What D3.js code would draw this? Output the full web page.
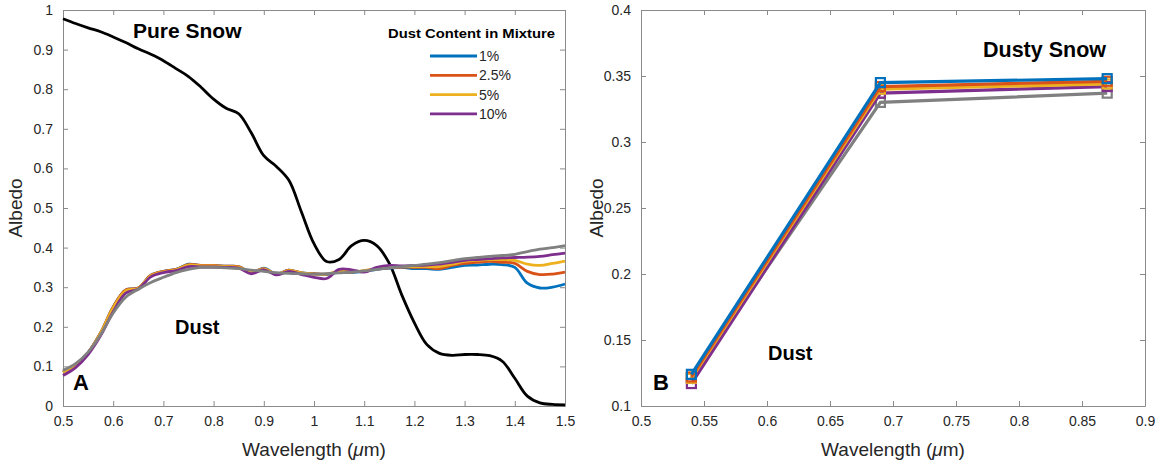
<!DOCTYPE html>
<html><head><meta charset="utf-8">
<script src="https://cdn.jsdelivr.net/npm/d3@7"></script>
<style>body{margin:0;background:#fff}svg{display:block;font-family:"Liberation Sans",Arial,sans-serif}</style>
</head><body><svg id="c" width="1164" height="466"></svg>
<script>
// ---------- Panel A data ----------
const wavelengthA = [0.5,0.525,0.55,0.575,0.6,0.625,0.65,0.675,0.7,0.725,0.75,0.775,0.8,0.825,0.85,0.875,0.9,0.925,0.95,0.975,1.0,1.025,1.05,1.075,1.1,1.125,1.15,1.175,1.2,1.225,1.25,1.275,1.3,1.325,1.35,1.375,1.4,1.425,1.45,1.475,1.5];
const pureSnow = [0.978,0.966,0.955,0.945,0.932,0.918,0.902,0.888,0.872,0.852,0.832,0.805,0.775,0.752,0.738,0.69,0.632,0.605,0.57,0.49,0.41,0.365,0.37,0.405,0.418,0.405,0.36,0.28,0.21,0.155,0.133,0.128,0.13,0.13,0.127,0.113,0.07,0.025,0.008,0.004,0.003];
const dust1 = [0.086,0.104,0.135,0.185,0.25,0.293,0.298,0.33,0.34,0.345,0.358,0.355,0.355,0.353,0.352,0.336,0.348,0.333,0.343,0.336,0.334,0.332,0.338,0.337,0.34,0.345,0.348,0.35,0.347,0.347,0.345,0.35,0.355,0.356,0.358,0.357,0.35,0.31,0.298,0.3,0.308];
const dust25 = [0.086,0.104,0.135,0.185,0.25,0.293,0.298,0.33,0.34,0.345,0.357,0.355,0.355,0.353,0.352,0.337,0.347,0.333,0.343,0.336,0.334,0.333,0.339,0.338,0.341,0.346,0.349,0.351,0.35,0.35,0.347,0.355,0.36,0.363,0.365,0.363,0.36,0.34,0.332,0.333,0.338];
const dust5 = [0.085,0.103,0.134,0.184,0.248,0.291,0.297,0.329,0.339,0.344,0.356,0.354,0.354,0.352,0.351,0.337,0.346,0.333,0.342,0.336,0.333,0.333,0.34,0.339,0.342,0.347,0.35,0.352,0.352,0.352,0.352,0.358,0.365,0.368,0.37,0.37,0.368,0.358,0.355,0.36,0.366];
const dust10 = [0.077,0.097,0.13,0.178,0.238,0.285,0.295,0.326,0.337,0.342,0.352,0.351,0.351,0.35,0.348,0.334,0.344,0.331,0.34,0.332,0.325,0.322,0.345,0.344,0.338,0.35,0.355,0.354,0.355,0.356,0.358,0.363,0.368,0.37,0.372,0.374,0.375,0.376,0.378,0.382,0.386];
const dustOnly = [0.09,0.107,0.136,0.18,0.235,0.275,0.295,0.312,0.325,0.337,0.345,0.35,0.35,0.349,0.347,0.343,0.34,0.337,0.335,0.334,0.333,0.334,0.336,0.338,0.341,0.345,0.349,0.352,0.355,0.358,0.362,0.367,0.372,0.375,0.378,0.38,0.383,0.39,0.396,0.4,0.405];
const xTicksA = [0.5,0.6,0.7,0.8,0.9,1.0,1.1,1.2,1.3,1.4,1.5];
const yTicksA = [0,0.1,0.2,0.3,0.4,0.5,0.6,0.7,0.8,0.9,1];

// ---------- Panel B data ----------
const wavelengthB = [0.54,0.69,0.87];
const b1 = [0.124,0.345,0.348];
const b25 = [0.122,0.342,0.346];
const b5 = [0.121,0.340,0.344];
const b10 = [0.117,0.337,0.342];
const bDust = [0.121,0.330,0.337];
const xTicksB = [0.5,0.55,0.6,0.65,0.7,0.75,0.8,0.85,0.9];
const yTicksB = [0.1,0.15,0.2,0.25,0.3,0.35,0.4];

const legendLabels = ["1%","2.5%","5%","10%"];
const colors = ["#0072BD","#D95319","#EDB120","#7E2F8E"];
const grayC = "#808080";

const svg = d3.select("#c");
const fmt = v => String(+v.toFixed(2));

function panel(xd, yd, xr, yr, xt, yt) {
  const x = d3.scaleLinear().domain(xd).range(xr);
  const y = d3.scaleLinear().domain(yd).range(yr);
  const g = svg.append("g");
  const axc = "#262626";
  const mk = (ax) => ax.tickSizeOuter(0);
  const bottom = g.append("g").attr("transform",`translate(0,${yr[0]})`)
    .call(mk(d3.axisBottom(x).tickValues(xt).tickFormat(fmt).tickSizeInner(-5).tickPadding(10)));
  const top = g.append("g").attr("transform",`translate(0,${yr[1]})`)
    .call(mk(d3.axisTop(x).tickValues(xt).tickFormat("").tickSizeInner(-5)));
  const left = g.append("g").attr("transform",`translate(${xr[0]},0)`)
    .call(mk(d3.axisLeft(y).tickValues(yt).tickFormat(fmt).tickSizeInner(-5).tickPadding(10)));
  const right = g.append("g").attr("transform",`translate(${xr[1]},0)`)
    .call(mk(d3.axisRight(y).tickValues(yt).tickFormat("").tickSizeInner(-5)));
  [bottom,top,left,right].forEach(a=>{
    a.selectAll("path,line").attr("stroke","#8a8a8a").attr("stroke-width",1);
    a.selectAll("text").attr("fill",axc).attr("font-size",14).attr("font-family","Liberation Sans, Arial, sans-serif");
  });
  return {x,y,g};
}

// Panel A
const A = panel([0.5,1.5],[0,1],[63,565],[406,10],xTicksA,yTicksA);
const lineA = d3.line().x((d,i)=>A.x(wavelengthA[i])).y(d=>A.y(d)).curve(d3.curveCatmullRom.alpha(0.5));
A.g.append("path").attr("d",lineA(pureSnow)).attr("fill","none").attr("stroke","#000").attr("stroke-width",2.8);
[dust1,dust25,dust5,dust10].forEach((s,i)=>{
  A.g.append("path").attr("d",lineA(s)).attr("fill","none").attr("stroke",colors[i]).attr("stroke-width",2.8);
});
A.g.append("path").attr("d",lineA(dustOnly)).attr("fill","none").attr("stroke",grayC).attr("stroke-width",2.8);

// Legend
const lg = A.g.append("g");
lg.append("text").attr("x",388).attr("y",38).attr("font-size",13.3).attr("font-weight","bold").attr("fill","#000")
  .attr("textLength",167).attr("lengthAdjust","spacingAndGlyphs").text("Dust Content in Mixture");
legendLabels.forEach((l,i)=>{
  const yy = 56 + i*19.3;
  lg.append("line").attr("x1",430).attr("x2",477).attr("y1",yy).attr("y2",yy).attr("stroke",colors[i]).attr("stroke-width",2.8);
  lg.append("text").attr("x",479).attr("y",yy+5).attr("font-size",14).attr("fill","#262626").text(l);
});

// Annotations A
const bold = (g,x,y,s,t)=>g.append("text").attr("x",x).attr("y",y).attr("font-size",s).attr("font-weight","bold").attr("fill","#000").text(t);
bold(A.g,133,38,21,"Pure Snow");
bold(A.g,175,334,20,"Dust");
bold(A.g,73,390,22,"A");

// Panel B
const B = panel([0.5,0.9],[0.1,0.4],[641,1145],[406,10],xTicksB,yTicksB);
const lineB = d3.line().x((d,i)=>B.x(wavelengthB[i])).y(d=>B.y(d));
const bSeries = [bDust,b10,b5,b25,b1];
const bColors = [grayC,colors[3],colors[2],colors[1],colors[0]];
bSeries.forEach((s,i)=>{
  B.g.append("path").attr("d",lineB(s)).attr("fill","none").attr("stroke",bColors[i]).attr("stroke-width",3.2);
  B.g.selectAll(null).data(s).enter().append("rect")
    .attr("x",(d,j)=>B.x(wavelengthB[j])-4.5).attr("y",d=>B.y(d)-4.5)
    .attr("width",9).attr("height",9).attr("fill","none").attr("stroke",bColors[i]).attr("stroke-width",2.2);
});
bold(B.g,983,57,21.5,"Dusty Snow");
bold(B.g,768,360,20,"Dust");
bold(B.g,653,390,22,"B");

// Axis titles
const title = (x,y,rot,html)=>{
  const t = svg.append("text").attr("text-anchor","middle").attr("font-size",19).attr("fill","#262626")
    .attr("transform",`translate(${x},${y}) rotate(${rot})`);
  html(t);
};
title(22,208,-90,t=>t.text("Albedo"));
title(603,208,-90,t=>t.text("Albedo"));
[[314,456],[893,456]].forEach(([x,y])=>title(x,y,0,t=>{
  t.append("tspan").text("Wavelength (");
  t.append("tspan").attr("font-style","italic").text("\u03bc");
  t.append("tspan").text("m)");
}));
</script></body></html>
